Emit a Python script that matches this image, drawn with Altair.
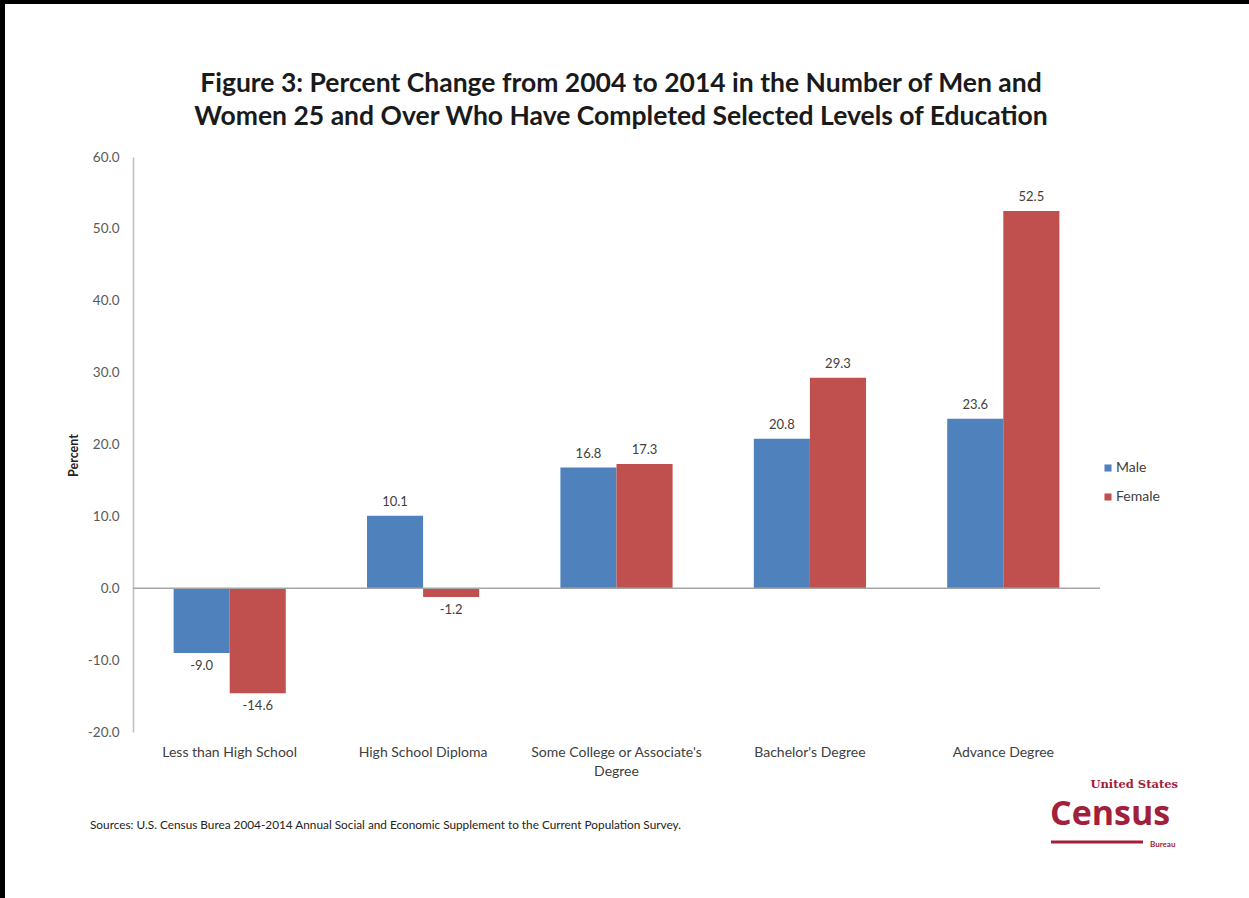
import altair as alt
import pandas as pd

categories = ["Less than High School", "High School Diploma",
              "Some College or Associate's Degree", "Bachelor's Degree", "Advance Degree"]
male = [-9.0, 10.1, 16.8, 20.8, 23.6]
female = [-14.6, -1.2, 17.3, 29.3, 52.5]
series = ["Male", "Female"]
colors = ["#4F81BD", "#C0504D"]
y_ticks = [-20, -10, 0, 10, 20, 30, 40, 50, 60]

title_line1 = "Figure 3: Percent  Change from 2004 to 2014 in the Number of Men and"
title_line2 = "Women 25 and Over Who Have Completed Selected Levels of Education"
source_text = "Sources:  U.S. Census Burea 2004-2014 Annual Social and Economic Supplement to the Current Population Survey."

rows = []
for c, m, f in zip(categories, male, female):
    rows.append({"category": c, "sex": "Male", "value": m})
    rows.append({"category": c, "sex": "Female", "value": f})
df = pd.DataFrame(rows)

FONT = "Lato"
W, H = 967, 575

label_expr = ("datum.label == \"Some College or Associate's Degree\" ? "
              "[\"Some College or Associate's\", 'Degree'] : datum.label")

base = alt.Chart(df).encode(
    x=alt.X("category:N", sort=categories, title=None,
            scale=alt.Scale(paddingInner=0.42, paddingOuter=0.21),
            axis=alt.Axis(domain=False, ticks=False, labelAngle=0, labelPadding=13,
                          labelFont=FONT, labelFontSize=14, labelColor="#404040",
                          labelExpr=label_expr, labelLineHeight=19)),
    xOffset=alt.XOffset("sex:N", sort=series),
    y=alt.Y("value:Q", title="Percent",
            scale=alt.Scale(domain=[-20, 60], nice=False, zero=False),
            axis=alt.Axis(values=y_ticks, format=".1f", grid=False, ticks=False,
                          labelExpr="replace(datum.label, '\u2212', '-')",
                          domainColor="#BFBFBF", domainWidth=1.5,
                          labelFont=FONT, labelFontSize=13.5, labelColor="#595959",
                          labelPadding=14,
                          titleFont=FONT, titleFontSize=12.5, titleFontWeight="bold",
                          titleColor="#222222", titleX=-60, titleY=298,
                          titleAngle=-90, titleAlign="center", titleBaseline="middle")),
)

bars = base.mark_bar().encode(
    color=alt.Color("sex:N", sort=series,
                    scale=alt.Scale(domain=series, range=colors),
                    legend=alt.Legend(title=None, orient="none", legendX=968, legendY=304,
                                      symbolType="square", symbolSize=50,
                                      symbolStrokeWidth=0,
                                      labelFont=FONT, labelFontSize=14,
                                      labelColor="#404040", rowPadding=15,
                                      labelOffset=1))
)

label_text = "replace(format(datum.value, '.1f'), '\u2212', '-')"

pos_labels = base.transform_filter("datum.value >= 0").transform_calculate(
    lbl=label_text
).mark_text(
    baseline="bottom", dy=-7, font=FONT, fontSize=13, color="#404040"
).encode(text="lbl:N")

neg_labels = base.transform_filter("datum.value < 0").transform_calculate(
    lbl=label_text
).mark_text(
    baseline="top", dy=7, font=FONT, fontSize=13, color="#404040"
).encode(text="lbl:N")

one = pd.DataFrame({"k": [0]})

zero_line = alt.Chart(one).mark_rule(color="#A6A6A6", strokeWidth=1.5).encode(
    y=alt.datum(0), x=alt.value(0), x2=alt.value(W))

border_top = alt.Chart(one).mark_rule(color="black", strokeWidth=4).encode(
    x=alt.value(-133), x2=alt.value(1116), y=alt.value(-155))
border_left = alt.Chart(one).mark_rule(color="black", strokeWidth=5).encode(
    x=alt.value(-130.5), y=alt.value(-157), y2=alt.value(741))

title1 = alt.Chart(one).mark_text(
    align="center", baseline="middle", font=FONT, fontSize=26.5, fontWeight="bold",
    color="#1A1A1A"
).encode(x=alt.value(488), y=alt.value(-73), text=alt.value(title_line1))
title2 = alt.Chart(one).mark_text(
    align="center", baseline="middle", font=FONT, fontSize=26.5, fontWeight="bold",
    color="#1A1A1A"
).encode(x=alt.value(488), y=alt.value(-40), text=alt.value(title_line2))

source = alt.Chart(one).mark_text(
    align="left", baseline="middle", font=FONT, fontSize=11.8, color="#222222"
).encode(x=alt.value(-43), y=alt.value(668), text=alt.value(source_text))

logo_color = "#A3203A"
logo_us = alt.Chart(one).mark_text(
    align="right", baseline="middle", font="DejaVu Serif", fontSize=11.5,
    fontWeight="bold", color=logo_color
).encode(x=alt.value(1045), y=alt.value(628), text=alt.value("United States"))
logo_census = alt.Chart(one).mark_text(
    align="left", baseline="middle", font="Open Sans", fontSize=34,
    fontWeight="bold", color=logo_color
).encode(x=alt.value(917), y=alt.value(658), text=alt.value("Census"))
logo_bar = alt.Chart(one).mark_rule(color=logo_color, strokeWidth=3).encode(
    x=alt.value(918), x2=alt.value(1010), y=alt.value(685))
logo_bureau = alt.Chart(one).mark_text(
    align="left", baseline="middle", font=FONT, fontSize=8,
    fontWeight="bold", color=logo_color
).encode(x=alt.value(1017), y=alt.value(688), text=alt.value("Bureau"))

chart = alt.layer(
    bars, zero_line, pos_labels, neg_labels, border_top, border_left, title1, title2,
    source, logo_us, logo_census, logo_bar, logo_bureau
).properties(
    width=W, height=H,
    autosize=alt.AutoSizeParams(type="none"),
    padding={"left": 133, "top": 157, "right": 149, "bottom": 166},
    background="white",
).configure_view(stroke=None)

chart.save("out.html", embed_options={"renderer": "svg", "actions": False})
